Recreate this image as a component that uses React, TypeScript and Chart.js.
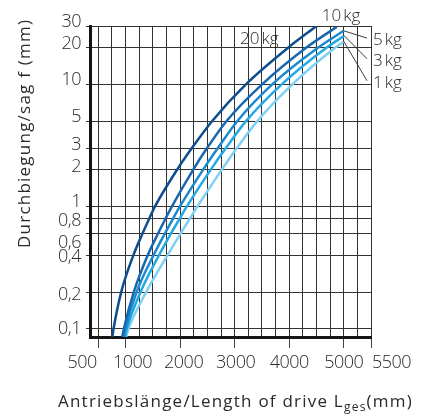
import React, { useEffect, useRef } from 'react';
import { Chart, registerables } from 'chart.js';

Chart.register(...registerables);

// ---- data ----
const SERIES_NAMES = ['20kg', '10kg', '5kg', '3kg', '1kg'];

const LEN_20KG = [757, 779, 920, 1142, 1309, 1435, 1538, 1943, 2213, 2585, 3206, 3984, 4501];
const SAG_20KG = [0.086, 0.1, 0.2, 0.4, 0.6, 0.8, 1, 2, 3, 5, 10, 20, 30];

const LEN_10KG = [940, 968, 1151, 1406, 1593, 1734, 1848, 2238, 2491, 2849, 3503, 4316, 4871];
const SAG_10KG = [0.086, 0.1, 0.2, 0.4, 0.6, 0.8, 1, 2, 3, 5, 10, 20, 29.5];

const LEN_5KG = [971, 999, 1202, 1512, 1718, 1872, 1994, 2420, 2689, 3047, 3689, 4534, 5000];
const SAG_5KG = [0.086, 0.1, 0.2, 0.4, 0.6, 0.8, 1, 2, 3, 5, 10, 20, 27.4];

const LEN_3KG = [990, 1023, 1274, 1611, 1829, 1993, 2121, 2559, 2836, 3208, 3863, 4688, 5000];
const SAG_3KG = [0.086, 0.1, 0.2, 0.4, 0.6, 0.8, 1, 2, 3, 5, 10, 20, 24.8];

const LEN_1KG = [1008, 1052, 1377, 1767, 2005, 2180, 2315, 2761, 3038, 3415, 4057, 4849, 5000];
const SAG_1KG = [0.086, 0.1, 0.2, 0.4, 0.6, 0.8, 1, 2, 3, 5, 10, 20, 22.3];

const X_GRID = [500, 750, 1000, 1250, 1500, 1750, 2000, 2250, 2500, 2750, 3000, 3250, 3500, 3750, 4000, 4250, 4500, 4750, 5000, 5250, 5500];
const X_LABEL_VALUES = [500, 1000, 2000, 3000, 4000, 5000, 5500];
const X_LABELS = ['500', '1000', '2000', '3000', '4000', '5000', '5500'];

const Y_TICKS = [0.1, 0.2, 0.4, 0.6, 0.8, 1, 2, 3, 5, 10, 20, 30];
const Y_LABELS = ['0,1', '0,2', '0,4', '0,6', '0,8', '1', '2', '3', '5', '10', '20', '30'];

const X_MIN = 348;
const X_MAX = 5500;
const Y_MIN = 0.086;
const Y_MAX = 30;

const Y_TITLE = 'Durchbiegung/sag f (mm)';
const X_TITLE_MAIN = 'Antriebslänge/Length of drive L';
const X_TITLE_SUB = 'ges';
const X_TITLE_UNIT = '(mm)';

// curve label anchors in data space and leader lines
const LABEL_POS_L = [3099, 4597, 5538, 5538, 5538];
const LABEL_POS_F = [21.4, 32.9, 21.0, 14.2, 9.42];
const LEADER_FROM_L = [null, null, 5000, 5000, 5000];
const LEADER_FROM_F = [null, null, 27.4, 25.2, 22.5];
const LEADER_TO_L = [null, null, 5427, 5427, 5427];
const LEADER_TO_F = [null, null, 23.9, 16.2, 10.7];

// ---- styles ----
const COLORS = ['#0e4d8e', '#1767b1', '#1a8ad0', '#22a9e6', '#7fd0f4'];
const FONT = '"Open Sans", "DejaVu Sans", sans-serif';
const TEXT_COLOR = '#2a2a2a';
const GRID_COLOR = '#333333';

const Y_LABEL_DY = [5, 8, 7, 14, 7, 0.5, 2, 1.5, 1, 1, 1, 1];
const X_LABEL_DX = [-1.5, 7, 3.5, 1, 0, 0, 1];
const X_LABEL_ALIGN: CanvasTextAlign[] = ['right', 'center', 'center', 'center', 'center', 'center', 'left'];

const toPoints = (ls: number[], fs: number[]) => ls.map((l, i) => ({ x: l, y: fs[i] }));

const SERIES = [
  toPoints(LEN_20KG, SAG_20KG),
  toPoints(LEN_10KG, SAG_10KG),
  toPoints(LEN_5KG, SAG_5KG),
  toPoints(LEN_3KG, SAG_3KG),
  toPoints(LEN_1KG, SAG_1KG),
];

const textPlugin = {
  id: 'customText',
  afterDraw(chart: any) {
    const { ctx, scales, chartArea } = chart;
    const x = scales.x;
    const y = scales.y;
    ctx.save();
    ctx.fillStyle = TEXT_COLOR;

    // y tick labels
    ctx.font = `300 18px ${FONT}`;
    ctx.textBaseline = 'alphabetic';
    ctx.textAlign = 'right';
    (ctx as any).letterSpacing = '-0.5px';
    Y_TICKS.forEach((v, i) => {
      ctx.fillText(Y_LABELS[i], chartArea.left - 9, y.getPixelForValue(v) + Y_LABEL_DY[i]);
    });

    // x tick labels
    X_LABEL_VALUES.forEach((v, i) => {
      ctx.textAlign = X_LABEL_ALIGN[i];
      ctx.fillText(X_LABELS[i], x.getPixelForValue(v) + X_LABEL_DX[i], chartArea.bottom + 31);
    });

    // y title
    ctx.save();
    ctx.font = `400 17px ${FONT}`;
    (ctx as any).letterSpacing = '0px';
    const wy = ctx.measureText(Y_TITLE).width;
    const ySp = (228 - wy) / (Y_TITLE.length - 1);
    (ctx as any).letterSpacing = `${ySp}px`;
    ctx.translate(30, 248);
    ctx.rotate(-Math.PI / 2);
    ctx.textAlign = 'left';
    ctx.fillText(Y_TITLE, 0, 0);
    ctx.restore();

    // x title
    ctx.textAlign = 'left';
    ctx.font = `400 17px ${FONT}`;
    (ctx as any).letterSpacing = '0px';
    const wMain = ctx.measureText(X_TITLE_MAIN).width;
    const wUnit = ctx.measureText(X_TITLE_UNIT).width;
    ctx.font = `400 12px ${FONT}`;
    const wSub = ctx.measureText(X_TITLE_SUB).width;
    const nChars = X_TITLE_MAIN.length + X_TITLE_UNIT.length + X_TITLE_SUB.length;
    const sp = (355 - wMain - wUnit - wSub) / nChars;
    (ctx as any).letterSpacing = `${sp}px`;
    let cx = 58;
    const base = chartArea.bottom + 70;
    ctx.font = `400 17px ${FONT}`;
    ctx.fillText(X_TITLE_MAIN, cx, base);
    cx += ctx.measureText(X_TITLE_MAIN).width;
    ctx.font = `400 12px ${FONT}`;
    ctx.fillText(X_TITLE_SUB, cx, base + 4);
    cx += ctx.measureText(X_TITLE_SUB).width;
    ctx.font = `400 17px ${FONT}`;
    ctx.fillText(X_TITLE_UNIT, cx, base);

    // curve labels
    ctx.font = `300 17px ${FONT}`;
    (ctx as any).letterSpacing = '0px';
    ctx.textAlign = 'left';
    SERIES_NAMES.forEach((name, i) => {
      const px = x.getPixelForValue(LABEL_POS_L[i]);
      const py = y.getPixelForValue(LABEL_POS_F[i]);
      const num = name.replace('kg', '');
      ctx.fillText(num, px, py);
      const wn = ctx.measureText(num).width;
      ctx.fillText('kg', px + wn + 2, py);
    });

    // leader lines
    ctx.strokeStyle = '#3a3a3a';
    ctx.lineWidth = 1;
    SERIES_NAMES.forEach((_, i) => {
      if (LEADER_FROM_L[i] == null) return;
      ctx.beginPath();
      ctx.moveTo(x.getPixelForValue(LEADER_FROM_L[i] as number), y.getPixelForValue(LEADER_FROM_F[i] as number));
      ctx.lineTo(x.getPixelForValue(LEADER_TO_L[i] as number), y.getPixelForValue(LEADER_TO_F[i] as number));
      ctx.stroke();
    });

    ctx.restore();
  },
};

export default function App() {
  const ref = useRef<HTMLCanvasElement | null>(null);

  useEffect(() => {
    if (!ref.current) return;
    const chart = new Chart(ref.current, {
      type: 'scatter',
      data: {
        datasets: SERIES.map((pts, i) => ({
          label: SERIES_NAMES[i],
          data: pts,
          showLine: true,
          borderColor: COLORS[i],
          backgroundColor: COLORS[i],
          borderWidth: 2.5,
          pointRadius: 0,
          pointHoverRadius: 0,
          cubicInterpolationMode: 'monotone' as const,
          fill: false,
        })),
      },
      options: {
        animation: false,
        responsive: false,
        events: [],
        layout: { padding: { top: 26, right: 62, bottom: 0, left: 0 } },
        plugins: {
          legend: { display: false },
          tooltip: { enabled: false },
          title: { display: false },
        },
        scales: {
          x: {
            type: 'linear',
            min: X_MIN,
            max: X_MAX,
            afterBuildTicks: (s: any) => {
              s.ticks = X_GRID.map((v) => ({ value: v }));
            },
            afterFit: (s: any) => {
              s.height = 77;
            },
            ticks: { display: false },
            grid: {
              color: GRID_COLOR,
              lineWidth: 1,
              drawTicks: true,
              tickLength: 11,
              tickWidth: 1,
              tickColor: (c: any) => (c.tick && X_LABEL_VALUES.includes(c.tick.value) ? '#444' : 'rgba(0,0,0,0)'),
            },
            border: { display: true, color: '#151515', width: 3 },
          },
          y: {
            type: 'logarithmic',
            min: Y_MIN,
            max: Y_MAX,
            afterBuildTicks: (s: any) => {
              s.ticks = Y_TICKS.map((v) => ({ value: v }));
            },
            afterFit: (s: any) => {
              s.width = 90;
            },
            ticks: { display: false },
            grid: {
              color: GRID_COLOR,
              lineWidth: 1,
              drawTicks: true,
              tickLength: 4,
              tickColor: GRID_COLOR,
            },
            border: { display: true, color: '#151515', width: 3 },
          },
        },
      },
      plugins: [textPlugin],
    });
    return () => chart.destroy();
  }, []);

  return (
    <div style={{ position: 'fixed', left: 0, top: 0, width: 433, height: 414, background: '#fff' }}>
      <canvas ref={ref} width={433} height={414} style={{ display: 'block' }} />
    </div>
  );
}
